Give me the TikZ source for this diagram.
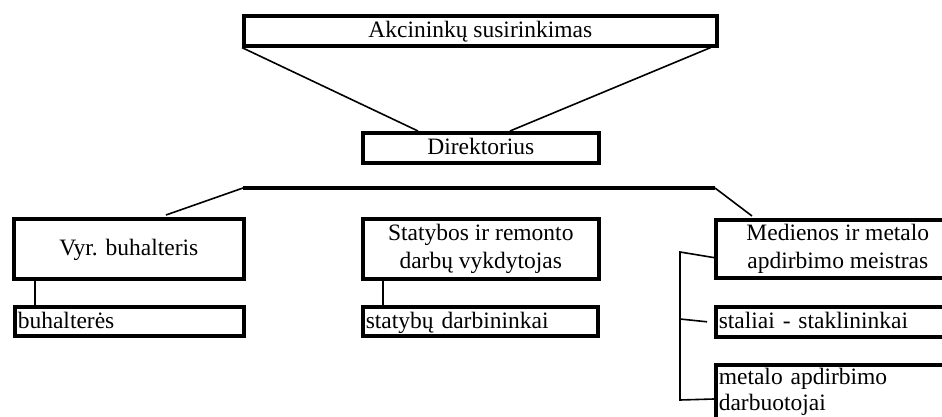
\documentclass[tikz,border=0pt]{standalone}
\usepackage{fontspec}
\setmainfont{Liberation Serif}
\usetikzlibrary{calc}
\tikzset{
  box/.style={draw, line width=3.6pt, rectangle, anchor=north west, inner sep=0pt,
    font=\fontsize{23.5}{27.5}\selectfont, align=center},
  oneline/.style={text height=18pt, text depth=4pt},
  lbox/.style={box, align=left, inner xsep=3pt},
  conn/.style={line width=1.6pt},
  busline/.style={line width=3.6pt},
}
\begin{document}
\begin{tikzpicture}[x=1pt,y=-1pt]
\useasboundingbox (0,0) rectangle (942,417);
\clip (0,0) rectangle (942,417);
\fill[white] (0,0) rectangle (942,417);

\node[box, oneline, minimum width=473, minimum height=30] (akc) at (242,14) {Akcininkų susirinkimas};
\node[box, oneline, minimum width=236, minimum height=30] (dir) at (361,131) {Direktorius};
\node[box, oneline, minimum width=230, minimum height=60] (vyr) at (12,217) {Vyr. buhalteris};
\node[box, minimum width=236, minimum height=60] (stat) at (361,217) {Statybos ir remonto\\darbų vykdytojas};
\node[box, minimum width=244, minimum height=58] (med) at (714,218) {Medienos ir metalo\\apdirbimo meistras};
\node[lbox, oneline, text width=223, minimum height=29] (buh) at (13,305) {buhalterės};
\node[lbox, oneline, text width=229, minimum height=29] (sd) at (361,305) {statybų darbininkai};
\node[lbox, oneline, text width=240, minimum height=30] (stal) at (714,305) {staliai - staklininkai};
\node[lbox, text width=240, minimum height=54, font=\fontsize{23.5}{26}\selectfont] (met) at (714,363) {metalo apdirbimo\\darbuotojai};

\coordinate (busL) at (243,188);
\coordinate (busR) at (715,188);
\coordinate (brT) at (680,252);
\coordinate (brM) at (680,319);
\coordinate (brB) at (680,400);

\draw[busline] (busL) -- (busR);
\draw[conn] (akc.south west) -- ($(dir.north west)+(57,0)$);
\draw[conn] ($(akc.south east)+(-8,0)$) -- ($(dir.north west)+(149,0)$);
\draw[conn] ($(dir.south)+(-12,0)$) -- ($(dir.south)+(-12,0)$ |- busL);
\draw[conn] (busL) -- ($(vyr.north west)+(154,-2)$);
\draw[conn] ($(stat.north west)+(36,0)$) -- ($(stat.north west)+(36,0)$ |- busL);
\draw[conn] (busR) -- ($(med.north west)+(38,-2)$);
\draw[conn] ($(vyr.south west)+(23,0)$) -- ($(buh.north west)+(22,0)$);
\draw[conn] ($(stat.south west)+(22,0)$) -- ($(sd.north west)+(22,0)$);
\draw[conn] ($(med.south west)+(0,-22)$) -- (brT) -- (brB) -- ($(met.north west)+(0,36)$);
\draw[conn] (brM) -- ($(stal.west)+(-7,0)$);
\end{tikzpicture}
\end{document}
